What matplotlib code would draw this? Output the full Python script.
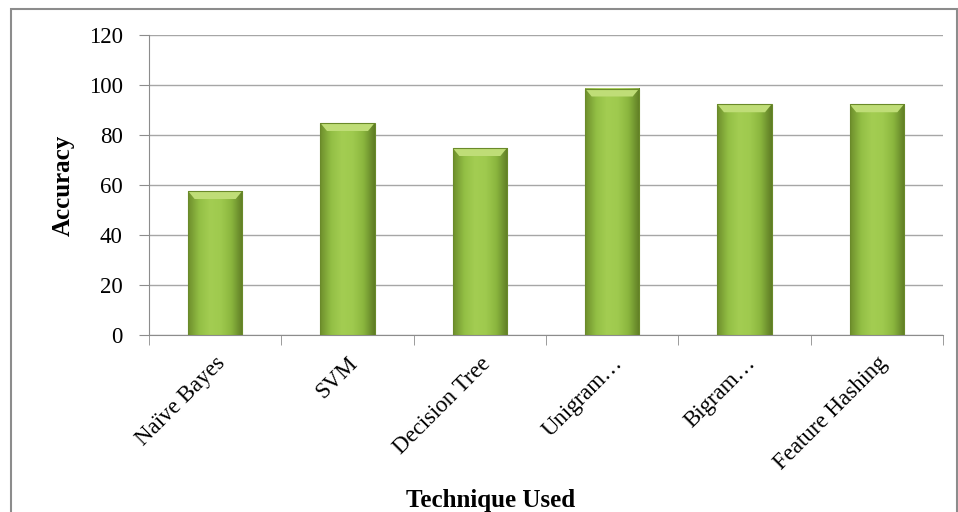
import numpy as np
import matplotlib.pyplot as plt
from matplotlib.patches import Rectangle, Polygon
from matplotlib.colors import LinearSegmentedColormap

techniques = ["Naïve Bayes", "SVM", "Decision Tree", "Unigram…", "Bigram…", "Feature Hashing"]
accuracy = [57.6, 84.8, 74.8, 98.6, 92.3, 92.3]
y_ticks = [0, 20, 40, 60, 80, 100, 120]

plt.rcParams['font.family'] = ['Liberation Serif', 'DejaVu Serif']

fig = plt.figure(figsize=(9.58, 5.12), dpi=100)
ax = fig.add_axes([149 / 958, 1 - 335 / 512, 794 / 958, 300 / 512])

# outer chart frame
fig.patches.append(Rectangle((11 / 958, -0.1), 946 / 958, 1.1 - 9 / 512,
                             transform=fig.transFigure, fill=False,
                             edgecolor="#8c8c8c", linewidth=1.5))

green = LinearSegmentedColormap.from_list(
    "bar", ["#6e8f2c", "#93bf45", "#a3cd52", "#9fca4e", "#8ab53e", "#5f7d25"])
grad = np.linspace(0, 1, 64).reshape(1, -1)
width = 0.41
xs = np.arange(len(techniques))
for x, h in zip(xs, accuracy):
    left, right = x - width / 2, x + width / 2
    ax.imshow(grad, cmap=green, aspect="auto", extent=(left, right, 0, h),
              zorder=3, interpolation="bicubic")
    bevel = 3.2
    inset = 0.05
    ax.add_patch(Polygon([(left, h), (right, h), (right - inset, h - bevel),
                          (left + inset, h - bevel)], closed=True,
                         facecolor="#bfdd77", edgecolor="none", zorder=4))
    ax.add_patch(Rectangle((left, 0), width, h, fill=False,
                           edgecolor="#6a8a2a", linewidth=0.8, zorder=5))

ax.set_xlim(-0.5, len(techniques) - 0.5)
ax.set_ylim(0, 120)
ax.set_yticks(y_ticks)
ax.set_yticklabels([str(v) for v in y_ticks], fontsize=16.5)
ax.yaxis.grid(True, color="#a6a6a6", linewidth=1)
ax.set_axisbelow(True)

ax.set_xticks(xs)
ax.set_xticklabels(techniques, rotation=45, ha="right", va="top",
                   rotation_mode="anchor", fontsize=16.5)
ax.tick_params(axis="x", length=0, pad=13)
ax.set_xticks(np.arange(len(techniques) + 1) - 0.5, minor=True)
ax.tick_params(axis="x", which="minor", length=7, color="#8c8c8c")
ax.tick_params(axis="y", length=7, color="#8c8c8c", pad=12)

for s in ["top", "right"]:
    ax.spines[s].set_visible(False)
for s in ["left", "bottom"]:
    ax.spines[s].set_color("#8c8c8c")

ax.set_ylabel("Accuracy", fontsize=18, fontweight="bold", labelpad=10)
fig.text(491 / 958, 1 - 500 / 512, "Technique Used", fontsize=18,
         fontweight="bold", ha="center", va="center")

fig.savefig("out.png", dpi=100)
